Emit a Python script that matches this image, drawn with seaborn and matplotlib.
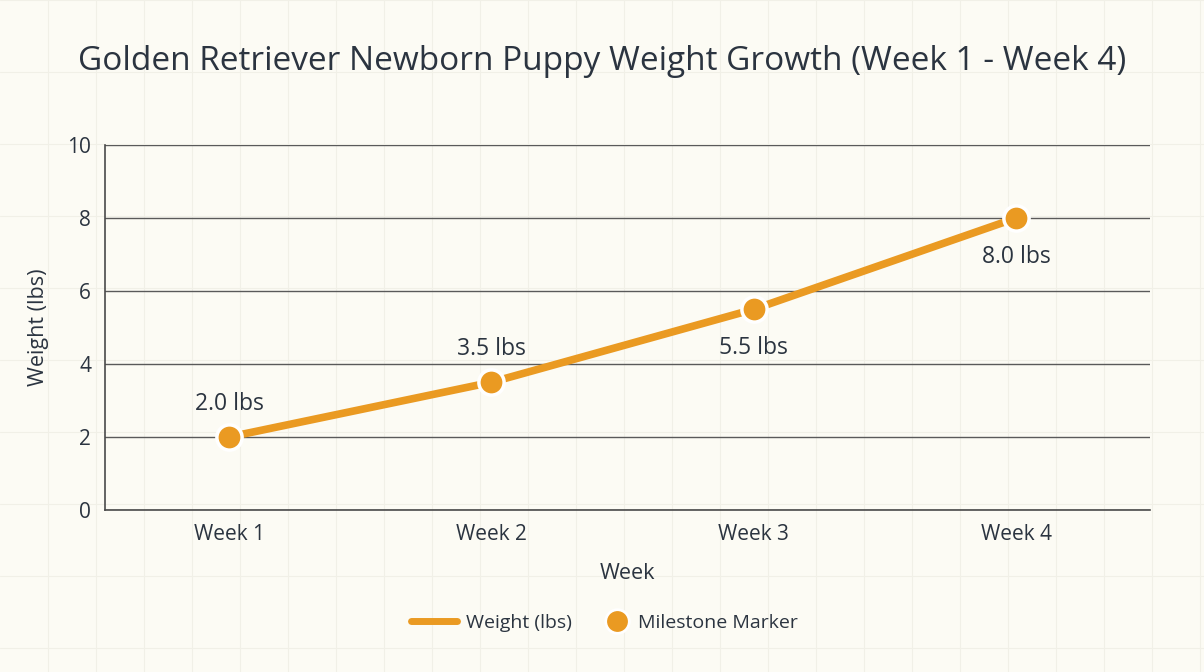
import matplotlib
matplotlib.use("Agg")
import matplotlib.pyplot as plt
from matplotlib.lines import Line2D
import seaborn as sns
import pandas as pd

weeks = ["Week 1", "Week 2", "Week 3", "Week 4"]
weights = [2.0, 3.5, 5.5, 8.0]
labels = ["2.0 lbs", "3.5 lbs", "5.5 lbs", "8.0 lbs"]
label_above = [True, True, False, False]
yticks = [0, 2, 4, 6, 8, 10]

df = pd.DataFrame({"Week": weeks, "Weight": weights, "x": range(len(weeks))})

sns.set_theme(style="white")
plt.rcParams["font.family"] = ["Open Sans", "DejaVu Sans"]

BG = "#FCFBF4"
ORANGE = "#EA9A22"
TXT = "#2B3440"

fig = plt.figure(figsize=(12.04, 6.72), dpi=100, facecolor=BG)
# faint background graph-paper pattern
for xv in range(48, 1204, 48):
    fig.add_artist(Line2D([xv / 1204, xv / 1204], [0, 1], color="#F1F0E7", lw=0.8, zorder=-5))
for yv in range(0, 672, 72):
    fig.add_artist(Line2D([0, 1], [1 - yv / 672, 1 - yv / 672], color="#F1F0E7", lw=0.8, zorder=-5))

ax = fig.add_axes([105 / 1204, 1 - 510 / 672, (1150 - 105) / 1204, (510 - 145) / 672])
ax.set_facecolor("none")

sns.lineplot(data=df, x="x", y="Weight", ax=ax, color=ORANGE, linewidth=5.5, zorder=3,
             solid_capstyle="round", legend=False)
sns.scatterplot(data=df, x="x", y="Weight", ax=ax, color=ORANGE, s=330, edgecolor="white",
                linewidth=2.5, zorder=4, legend=False)

for i, (w, lab, up) in enumerate(zip(weights, labels, label_above)):
    ax.annotate(lab, (i, w), xytext=(0, 24 if up else -28), textcoords="offset points",
                ha="center", va="center", fontsize=16.5, color=TXT)

ax.set_xlim(-0.473, 3.51)
ax.set_ylim(0, 10)
ax.set_xticks(range(len(weeks)))
ax.set_xticklabels(weeks)
ax.set_yticks(yticks)
ax.tick_params(axis="both", labelsize=15, colors=TXT, length=0, pad=10)
ax.grid(axis="y", color="#5A5A5A", linewidth=1)
ax.grid(axis="x", visible=False)
for s in ["top", "right"]:
    ax.spines[s].set_visible(False)
for s in ["left", "bottom"]:
    ax.spines[s].set_color("#4A4A4A")
    ax.spines[s].set_linewidth(1.2)

ax.set_xlabel("Week", fontsize=15.5, color=TXT, labelpad=13)
ax.set_ylabel("Weight (lbs)", fontsize=15.5, color=TXT, labelpad=13)

fig.text(0.5, 1 - 62 / 672, "Golden Retriever Newborn Puppy Weight Growth (Week 1 - Week 4)",
         ha="center", va="center", fontsize=24, color=TXT)

h_line = Line2D([0], [0], color=ORANGE, lw=5, solid_capstyle="round")
h_mark = Line2D([0], [0], marker="o", color="none", markerfacecolor=ORANGE,
                markeredgecolor="white", markersize=17, markeredgewidth=2)
leg1 = fig.legend([h_line], ["Weight (lbs)"], loc="center left",
                  bbox_to_anchor=(411 / 1204, 1 - 623 / 672), frameon=False, fontsize=14,
                  handlelength=2.35, handletextpad=0.5, borderpad=0, borderaxespad=0,
                  labelcolor=TXT)
leg2 = fig.legend([h_mark], ["Milestone Marker"], loc="center left",
                  bbox_to_anchor=(603 / 1204, 1 - 623 / 672), frameon=False, fontsize=14,
                  handlelength=1.4, handletextpad=0.4, borderpad=0, borderaxespad=0,
                  labelcolor=TXT)

fig.savefig("out.png", dpi=100, facecolor=BG)
